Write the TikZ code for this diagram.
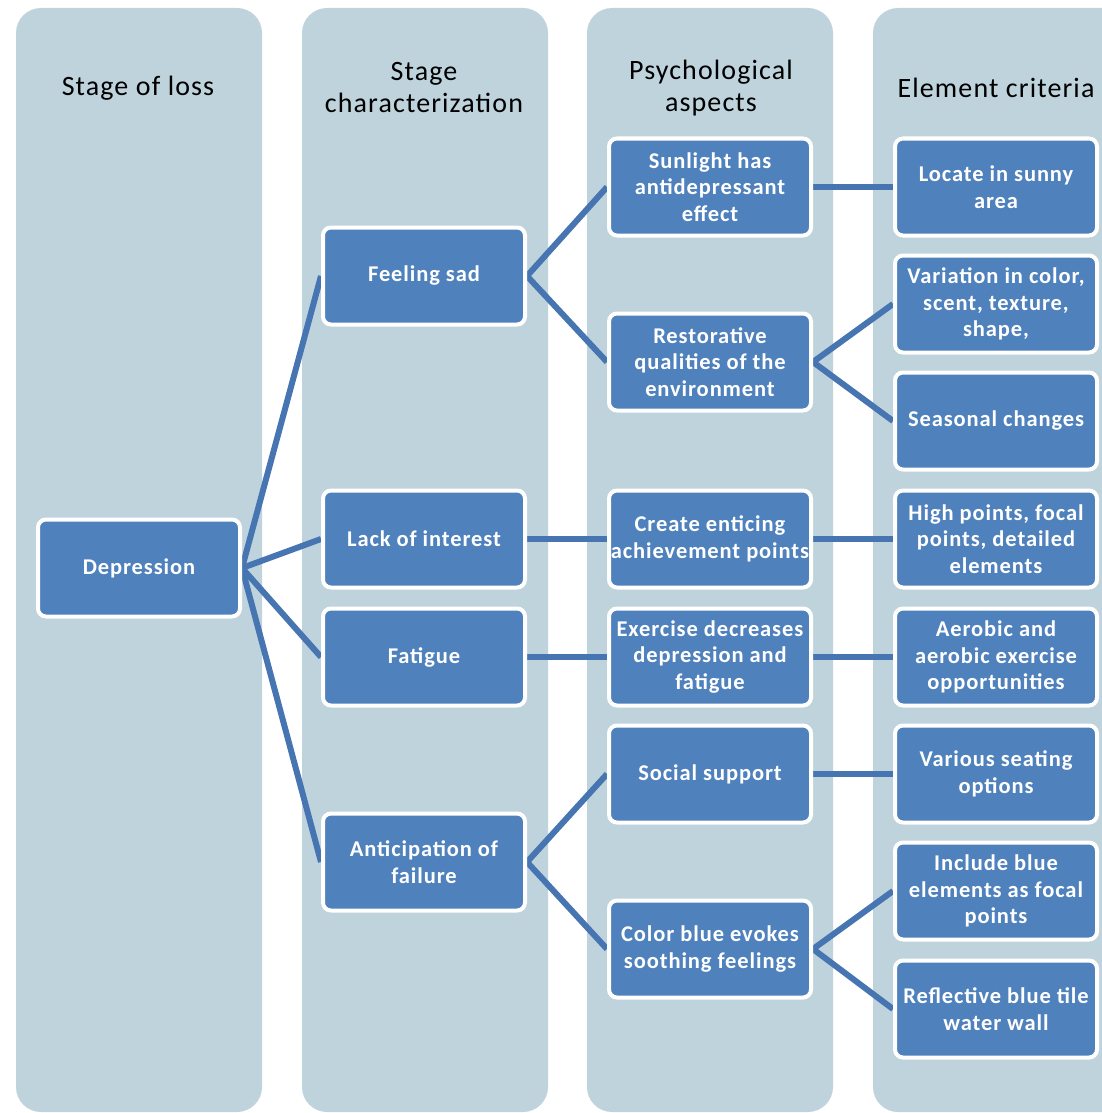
\documentclass[tikz,border=0pt]{standalone}
\usepackage{fontspec}
\setmainfont{Carlito}
\newfontfamily\spacedfont{Carlito}[LetterSpace=4]
\pgfdeclarelayer{columns}
\pgfdeclarelayer{links}
\pgfsetlayers{columns,links,main}
\definecolor{colbg}{RGB}{191,211,221}
\definecolor{boxblue}{RGB}{79,129,189}
\definecolor{linkblue}{RGB}{70,117,177}
\tikzset{
  box/.style={draw=white, line width=4pt, fill=boxblue, rounded corners=8pt,
    minimum width=202pt, minimum height=97pt, align=center, text=white,
    font=\spacedfont\fontsize{22.5}{26.5}\selectfont\bfseries, inner sep=1pt},
  header/.style={align=center, font=\spacedfont\fontsize{28}{32}\selectfont},
  link/.style={draw=linkblue, line width=6pt},
  column/.style={fill=colbg, rounded corners=25pt}
}
\begin{document}
\begin{tikzpicture}[x=1pt, y=-1pt]
                \clip (0,0) rectangle (1102,1113);

                \begin{pgfonlayer}{columns}
                \fill[column] (16,8) rectangle (262,1112);
                \fill[column] (302,8) rectangle (548,1112);
                \fill[column] (587,8) rectangle (833,1112);
                \fill[column] (873,8) rectangle (1140,1112);
                \end{pgfonlayer}

                \node[header] (h1) at (138,88) {Stage of loss};
                \node[header] (h2) at (424,88) {Stage\\characterization};
                \node[header] (h3) at (711,88) {Psychological\\aspects};
                \node[header] (h4) at (996,88) {Element criteria};

                \node[box] (dep) at (139,568) {Depression};

                \node[box] (sad) at (424,276) {Feeling sad};
                \node[box] (lack) at (424,539) {Lack of interest};
                \node[box] (fat) at (424,657) {Fatigue};
                \node[box] (anti) at (424,862) {Anticipation of\\failure};

                \node[box] (sun) at (710,187) {Sunlight has\\antidepressant\\effect};
                \node[box] (rest) at (710,362) {Restorative\\qualities of the\\environment};
                \node[box] (create) at (710,539) {Create enticing\\achievement points};
                \node[box] (exer) at (710,657) {Exercise decreases\\depression and\\fatigue};
                \node[box] (social) at (710,774) {Social support};
                \node[box] (blue) at (710,949) {Color blue evokes\\soothing feelings};

                \node[box] (sunny) at (996,187) {Locate in sunny\\area};
                \node[box] (vari) at (996,304) {Variation in color,\\scent, texture,\\shape,};
                \node[box] (season) at (996,421) {Seasonal changes};
                \node[box] (high) at (996,539) {High points, focal\\points, detailed\\elements};
                \node[box] (aero) at (996,657) {Aerobic and\\aerobic exercise\\opportunities};
                \node[box] (seat) at (996,774) {Various seating\\options};
                \node[box] (incl) at (996,891) {Include blue\\elements as focal\\points};
                \node[box] (refl) at (996,1009) {Reflective blue tile\\water wall};

                \begin{pgfonlayer}{links}
                \draw[link] (dep.east) -- (sad.west);
                \draw[link] (dep.east) -- (lack.west);
                \draw[link] (dep.east) -- (fat.west);
                \draw[link] (dep.east) -- (anti.west);
                \draw[link] (sad.east) -- (sun.west);
                \draw[link] (sad.east) -- (rest.west);
                \draw[link] (lack.east) -- (create.west);
                \draw[link] (fat.east) -- (exer.west);
                \draw[link] (anti.east) -- (social.west);
                \draw[link] (anti.east) -- (blue.west);
                \draw[link] (sun.east) -- (sunny.west);
                \draw[link] (rest.east) -- (vari.west);
                \draw[link] (rest.east) -- (season.west);
                \draw[link] (create.east) -- (high.west);
                \draw[link] (exer.east) -- (aero.west);
                \draw[link] (social.east) -- (seat.west);
                \draw[link] (blue.east) -- (incl.west);
                \draw[link] (blue.east) -- (refl.west);
                \end{pgfonlayer}
            \end{tikzpicture}
\end{document}
